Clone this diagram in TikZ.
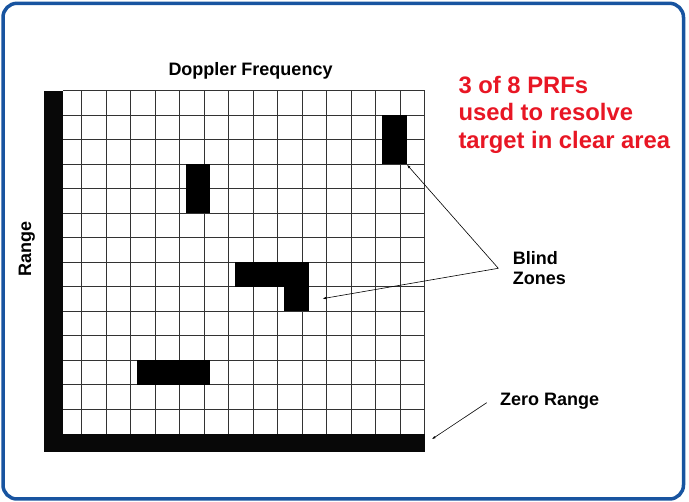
\documentclass[tikz,border=0pt]{standalone}
\usepackage{fontspec}
\setmainfont{Liberation Sans}
\usepackage{tikz}
\usetikzlibrary{arrows.meta}
\definecolor{frameblue}{RGB}{24, 84, 160}
\definecolor{prfred}{RGB}{232, 22, 36}

\begin{document}
\begin{tikzpicture}[
    x=1pt, y=-1pt,
    gridline/.style={black!80, line width=1.1pt},
    bar/.style={fill=black!97},
    zone/.style={fill=black, inner sep=0pt, anchor=north west},
    axislabel/.style={anchor=base west, inner sep=0pt,
                      font=\fontsize{18}{20}\selectfont\bfseries},
    note/.style={anchor=base west, inner sep=0pt, prfred,
                 font=\fontsize{23.8}{28}\selectfont\bfseries},
    pointer/.style={line width=0.6pt, -{Latex[length=4pt,width=2.4pt]}}
  ]
    \useasboundingbox (0,0) rectangle (689,502);
    \draw[frameblue, line width=3.5pt, rounded corners=14pt]
      (3,3.3) rectangle (683.5,499);

    % Raster: 14 kolom penuh mulai x=81,7; 14 baris mulai y=90,7; sel 24,5.
    \foreach \i in {0,...,14}
      \draw[gridline] ({81.7+24.5*\i},90.7) -- ({81.7+24.5*\i},433.7);
    \foreach \j in {0,...,13}
      \draw[gridline] (63.3,{90.7+24.5*\j}) -- (424.7,{90.7+24.5*\j});
    \fill[bar] (44,90.7) rectangle (63.3,452);
    \fill[bar] (44,433.7) rectangle (424.7,452);

    % Blind zones sit about 6 to the right of the cells.
    \node[zone, minimum width=24.5pt, minimum height=49pt]   (zoneB)  at (382,115.2) {};
    \node[zone, minimum width=24.5pt, minimum height=49pt]   (zoneA)  at (185.7,164.2) {};
    \node[zone, minimum width=73.5pt, minimum height=24.5pt] (zoneC)  at (235,262.2) {};
    \node[zone, minimum width=24.5pt, minimum height=24.5pt] (zoneCb) at (284,286.7) {};
    \node[zone, minimum width=73.5pt, minimum height=24.5pt] (zoneD)  at (136.6,360.2) {};

    \node[axislabel] (doppler) at (168.3,75.7) {Doppler Frequency};
    \node[axislabel, rotate=90] (range) at (31,276.7) {Range};
    \node[note] (prf1) at (458.3,93.3)  {3 of 8 PRFs};
    \node[note] (prf2) at (458.3,120.8) {used to resolve};
    \node[note] (prf3) at (458.3,148.5) {target in clear area};
    \node[axislabel] (blind) at (512.7,265) {Blind};
    \node[axislabel] (zones) at (512.7,285) {Zones};
    \node[axislabel] (zero)  at (500,406)   {Zero Range};

    \coordinate (fork) at (498.3,268.3);
    \coordinate (tipC) at (322.3,298.7);
    \draw[pointer] (fork) -- (zoneB.south east);
    \draw[pointer] (fork) -- (tipC);
    \coordinate (zerostart) at (486.7,402.7);
    \coordinate (zerotip)   at (431.7,439.3);
    \draw[pointer] (zerostart) -- (zerotip);
  \end{tikzpicture}
\end{document}
